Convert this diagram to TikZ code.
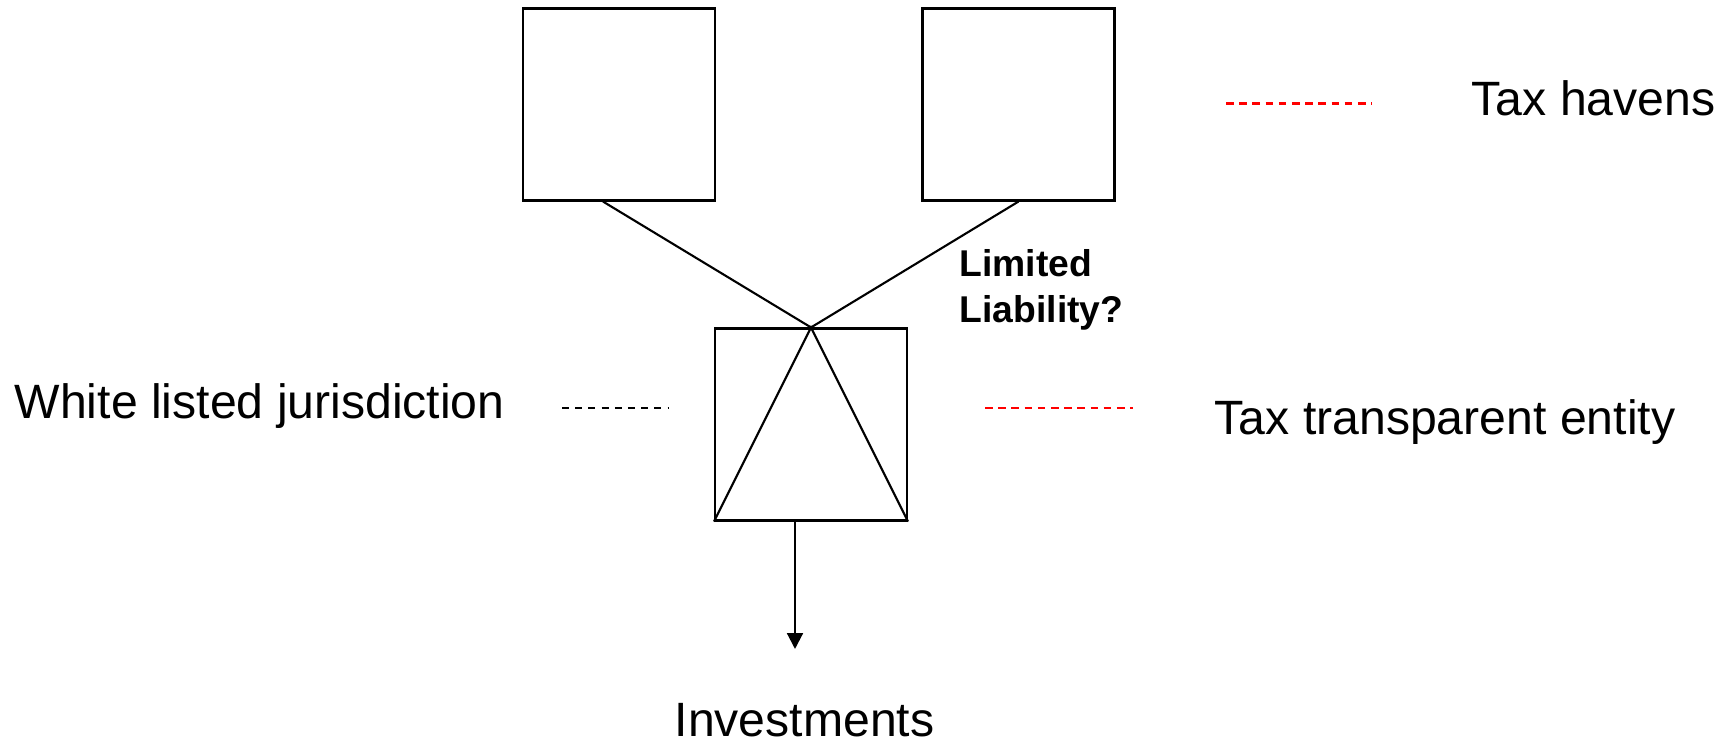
\documentclass[tikz,border=0pt]{standalone}
\usepackage{fontspec}
\setmainfont{Liberation Sans}
\usetikzlibrary{arrows.meta}
\begin{document}
\begin{tikzpicture}[x=0.01cm,y=-0.01cm,
  box/.style={draw,line width=0.6pt,minimum width=192*0.01cm,minimum height=192*0.01cm,inner sep=0pt},
  conn/.style={line width=0.6pt},
  reddash/.style={draw=red,line width=0.6pt,dash pattern=on 2.2pt off 1.55pt},
  blackdash/.style={draw=black,line width=0.6pt,dash pattern=on 2pt off 1.75pt},
  big/.style={font=\fontsize{13.7pt}{16pt}\selectfont,inner sep=0pt,anchor=base west},
  small/.style={font=\fontsize{10.6pt}{13.1pt}\selectfont\bfseries,inner sep=0pt,anchor=base west,align=left}]
\useasboundingbox (0,0) rectangle (1726,743);
\node[box] (tl) at (619,104.5) {};
\node[box] (tr) at (1018.5,104.5) {};
\node[box] (bm) at (811,424.5) {};
\coordinate (la) at ([xshift=-16*0.01cm]tl.south);
\draw[conn] (la) -- (bm.north);
\draw[conn] (tr.south) -- (bm.north);
\draw[conn] (bm.south west) -- (bm.north) -- (bm.south east);
\coordinate (ar) at ([xshift=-16*0.01cm]bm.south);
\coordinate (arend) at (795,649);
\draw[conn,-{Triangle[width=4.5pt,length=4.5pt]}] (ar) -- (arend);
\node[big] (inv) at (674,736.5) {Investments};
\node[big] (wl) at (14,419) {White listed jurisdiction};
\node[big] (th) at (1471,115.5) {Tax havens};
\node[big] (tt) at (1214,435) {Tax transparent entity};
\node[small] (ll) at (959,322.5) {Limited\\Liability?};
\coordinate (d1a) at (1226,103.5); \coordinate (d1b) at (1372,103.5);
\draw[reddash] (d1a) -- (d1b);
\coordinate (d2a) at (562,408); \coordinate (d2b) at (668,408);
\draw[blackdash] (d2a) -- (d2b);
\coordinate (d3a) at (985,408); \coordinate (d3b) at (1133,408);
\draw[reddash] (d3a) -- (d3b);
\end{tikzpicture}
\end{document}
